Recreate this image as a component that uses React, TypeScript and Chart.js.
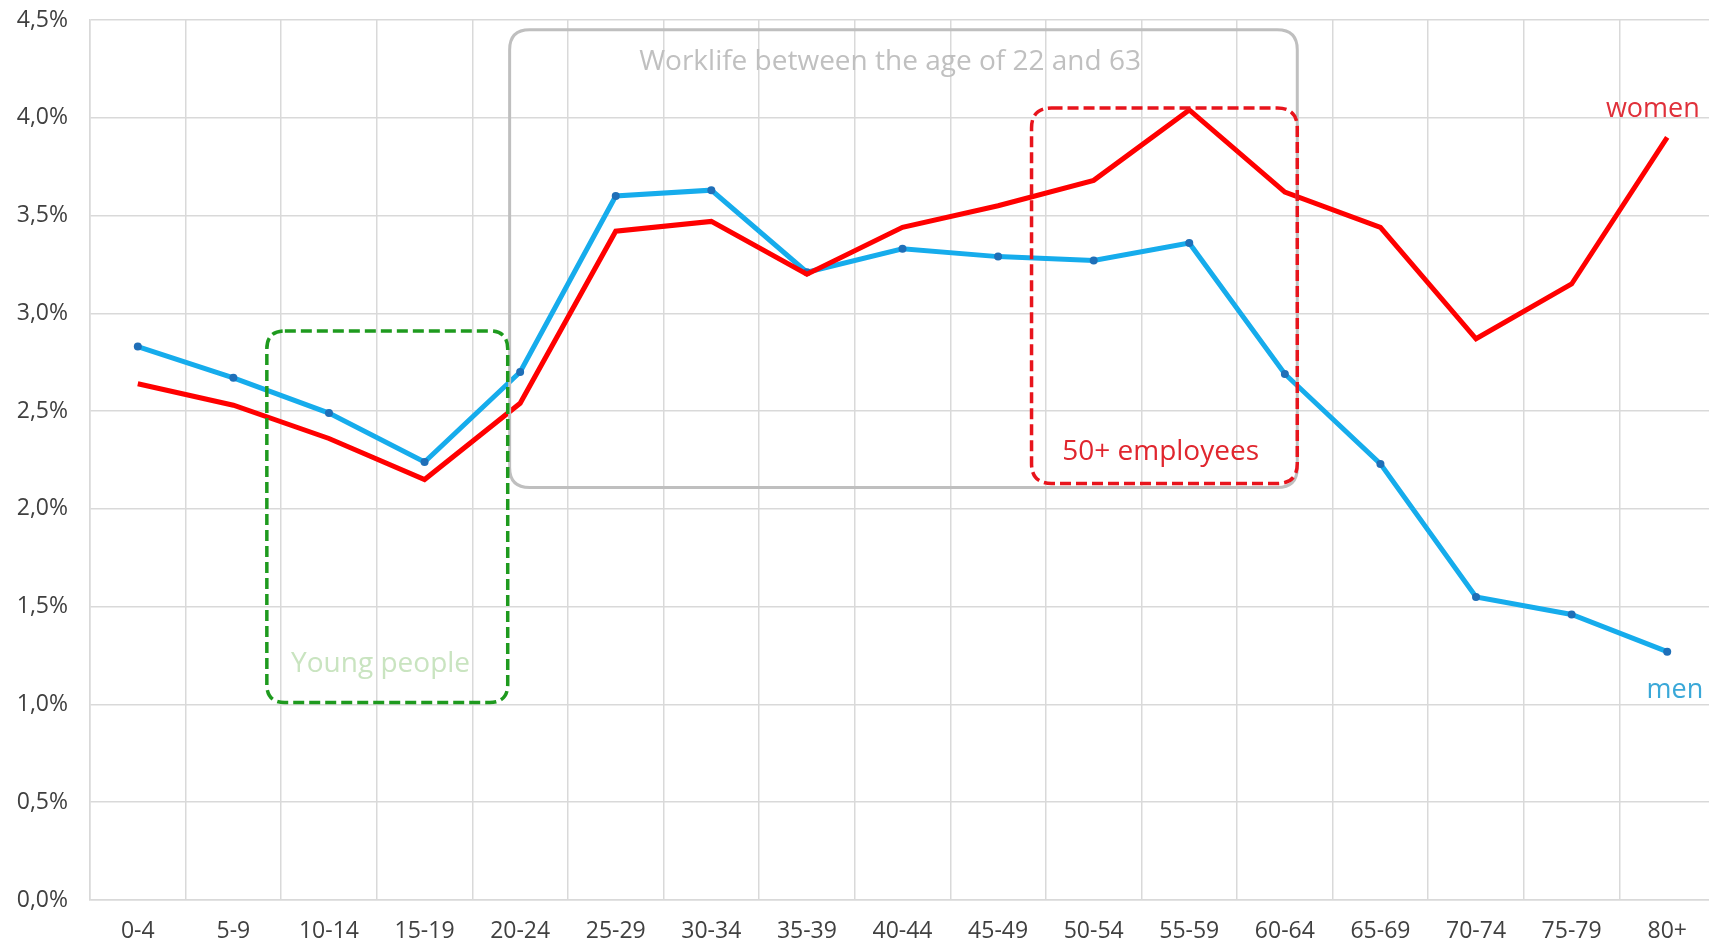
import React, { useEffect, useRef } from "react";
import { Chart, registerables } from "chart.js";

Chart.register(...registerables);

const ageGroups = ["0-4", "5-9", "10-14", "15-19", "20-24", "25-29", "30-34", "35-39", "40-44", "45-49", "50-54", "55-59", "60-64", "65-69", "70-74", "75-79", "80+"];
const menValues = [2.83, 2.67, 2.49, 2.24, 2.70, 3.60, 3.63, 3.21, 3.33, 3.29, 3.27, 3.36, 2.69, 2.23, 1.55, 1.46, 1.27];
const womenValues = [2.64, 2.53, 2.36, 2.15, 2.54, 3.42, 3.47, 3.20, 3.44, 3.55, 3.68, 4.04, 3.62, 3.44, 2.87, 3.15, 3.90];
const yTicks = [0, 0.5, 1, 1.5, 2, 2.5, 3, 3.5, 4, 4.5];

const boxes = [
  { x0: 3.89, x1: 12.13, y0: 4.45, y1: 2.11, color: "#bfbfbf", dash: [], width: 3, radius: 20 },
  { x0: 1.35, x1: 3.87, y0: 2.91, y1: 1.01, color: "#1e9a1e", dash: [11, 5], width: 3.5, radius: 18 },
  { x0: 9.35, x1: 12.13, y0: 4.05, y1: 2.13, color: "#e8141c", dash: [11, 5], width: 3.5, radius: 20 },
];

const labels = [
  { text: "Worklife between the age of 22 and 63", x: 7.87, y: 4.285, color: "#c0c0c0", size: 28 },
  { text: "Young people", x: 2.54, y: 1.205, color: "#c9e4c0", size: 28 },
  { text: "50+ employees", x: 10.7, y: 2.293, color: "#e0262e", size: 28 },
  { text: "women", x: 15.85, y: 4.045, color: "#e0303a", size: 27 },
  { text: "men", x: 16.08, y: 1.072, color: "#3aa8d8", size: 27 },
];

const FONT = "'Open Sans', 'DejaVu Sans', sans-serif";

function roundRect(ctx: CanvasRenderingContext2D, x: number, y: number, w: number, h: number, r: number) {
  ctx.beginPath();
  ctx.moveTo(x + r, y);
  ctx.lineTo(x + w - r, y);
  ctx.quadraticCurveTo(x + w, y, x + w, y + r);
  ctx.lineTo(x + w, y + h - r);
  ctx.quadraticCurveTo(x + w, y + h, x + w - r, y + h);
  ctx.lineTo(x + r, y + h);
  ctx.quadraticCurveTo(x, y + h, x, y + h - r);
  ctx.lineTo(x, y + r);
  ctx.quadraticCurveTo(x, y, x + r, y);
  ctx.closePath();
}

const annotationPlugin = {
  id: "annotations",
  afterDatasetsDraw(chart: any) {
    const ctx: CanvasRenderingContext2D = chart.ctx;
    const xs = chart.scales.x;
    const ys = chart.scales.y;
    ctx.save();
    for (const b of boxes) {
      const x0 = xs.getPixelForValue(b.x0);
      const x1 = xs.getPixelForValue(b.x1);
      const y0 = ys.getPixelForValue(b.y0);
      const y1 = ys.getPixelForValue(b.y1);
      ctx.strokeStyle = b.color;
      ctx.lineWidth = b.width;
      ctx.setLineDash(b.dash);
      roundRect(ctx, x0, y0, x1 - x0, y1 - y0, b.radius);
      ctx.stroke();
    }
    ctx.setLineDash([]);
    for (const l of labels) {
      ctx.fillStyle = l.color;
      ctx.font = `${l.size}px ${FONT}`;
      ctx.textAlign = "center";
      ctx.textBaseline = "middle";
      ctx.fillText(l.text, xs.getPixelForValue(l.x), ys.getPixelForValue(l.y));
    }
    ctx.restore();
  },
};

export default function App() {
  const ref = useRef<HTMLCanvasElement>(null);
  useEffect(() => {
    document.body.style.overflow = "hidden";
    const chart = new Chart(ref.current!, {
      type: "line",
      data: {
        labels: ageGroups,
        datasets: [
          {
            label: "women",
            data: womenValues,
            borderColor: "#ff0000",
            borderWidth: 5,
            pointRadius: 0,
            tension: 0,
          },
          {
            label: "men",
            data: menValues,
            borderColor: "#16acec",
            borderWidth: 5,
            pointRadius: 4,
            pointBackgroundColor: "#1f6fb8",
            pointBorderWidth: 0,
            tension: 0,
          },
        ],
      },
      options: {
        animation: false,
        responsive: true,
        maintainAspectRatio: false,
        layout: { autoPadding: false, padding: { left: 0, right: 1, top: 20, bottom: 0 } },
        plugins: { legend: { display: false }, tooltip: { enabled: false } },
        scales: {
          x: {
            offset: true,
            grid: { offset: true, color: "#d9d9d9", lineWidth: 1.5, drawTicks: false },
            border: { color: "#d9d9d9", width: 1.5 },
            ticks: { color: "#404040", font: { family: FONT, size: 23 }, padding: 18, maxRotation: 0, autoSkip: false },
            afterFit: (s: any) => { s.height = 45; s.paddingLeft = 0; s.paddingRight = 0; },
          },
          y: {
            min: 0,
            max: 4.5,
            afterBuildTicks: (s: any) => { s.ticks = yTicks.map((v) => ({ value: v })); },
            grid: { color: "#d9d9d9", lineWidth: 1.5, drawTicks: false },
            border: { color: "#d9d9d9", width: 1.5 },
            ticks: {
              color: "#404040",
              font: { family: FONT, size: 23 },
              padding: 22,
              callback: (v: any) => Number(v).toFixed(1).replace(".", ",") + "%",
            },
            afterFit: (s: any) => { s.width = 90; s.paddingTop = 0; s.paddingBottom = 0; },
          },
        },
      },
      plugins: [annotationPlugin],
    });
    return () => chart.destroy();
  }, []);
  return (
    <div style={{ position: "fixed", left: 0, top: 0, width: 1716, height: 945, background: "#fff" }}>
      <canvas ref={ref} />
    </div>
  );
}
